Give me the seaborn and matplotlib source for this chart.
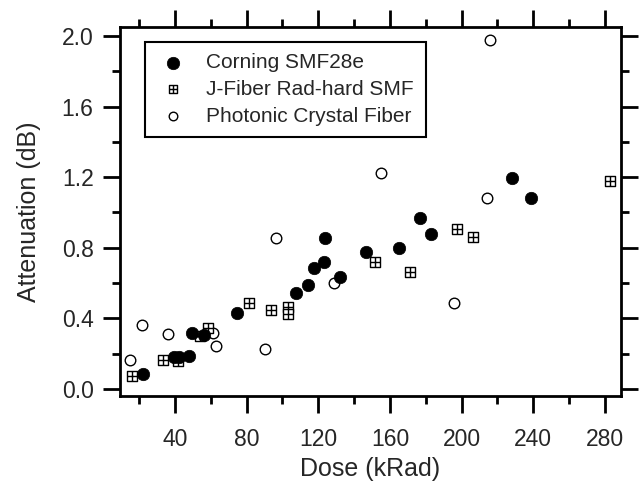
import numpy as np
import pandas as pd
import matplotlib
matplotlib.use("Agg")
import matplotlib.pyplot as plt
from matplotlib.path import Path
from matplotlib.ticker import MultipleLocator
import seaborn as sns

# ---- data ----
corning_x = [22.3, 39.3, 42.2, 48.0, 49.4, 56.3, 74.8, 107.6, 114.0, 117.4, 123.1, 123.9,
             131.9, 146.8, 165.0, 176.9, 183.2, 228.4, 238.7]
corning_y = [0.083, 0.180, 0.182, 0.189, 0.316, 0.306, 0.429, 0.542, 0.588, 0.687, 0.718, 0.854,
             0.633, 0.775, 0.797, 0.971, 0.880, 1.194, 1.080]

jfiber_x = [15.8, 33.5, 41.9, 54.0, 58.2, 81.3, 93.5, 103.0, 103.0, 151.8, 171.3, 197.2, 206.3, 283.1]
jfiber_y = [0.075, 0.164, 0.157, 0.302, 0.347, 0.486, 0.450, 0.463, 0.425, 0.721, 0.665, 0.905,
            0.863, 1.178]

pcf_x = [14.9, 21.4, 36.3, 61.4, 62.7, 90.4, 96.5, 128.7, 155.0, 195.7, 214.4, 216.1]
pcf_y = [0.164, 0.360, 0.314, 0.316, 0.244, 0.225, 0.854, 0.602, 1.222, 0.489, 1.081, 1.979]

labels = ["Corning SMF28e", "J-Fiber Rad-hard SMF", "Photonic Crystal Fiber"]
x_ticks = [40, 80, 120, 160, 200, 240, 280]
y_ticks = [0.0, 0.4, 0.8, 1.2, 1.6, 2.0]

sns.set_style("ticks")
plt.rcParams["font.family"] = ["Liberation Sans", "DejaVu Sans"]

# square with a cross inside
grid_sq = Path(
    [(-1, -1), (1, -1), (1, 1), (-1, 1), (-1, -1),
     (-1, 0), (1, 0), (0, -1), (0, 1)],
    [Path.MOVETO, Path.LINETO, Path.LINETO, Path.LINETO, Path.CLOSEPOLY,
     Path.MOVETO, Path.LINETO, Path.MOVETO, Path.LINETO])

fig = plt.figure(figsize=(6.43, 4.83), dpi=100)
ax = fig.add_axes([0.1866, 0.1801, 0.7792, 0.7640])

df_p = pd.DataFrame({"x": pcf_x, "y": pcf_y})
df_j = pd.DataFrame({"x": jfiber_x, "y": jfiber_y})
df_c = pd.DataFrame({"x": corning_x, "y": corning_y})

sns.scatterplot(data=df_p, x="x", y="y", ax=ax, marker="o", s=58,
                facecolor="white", edgecolor="black", linewidth=1.0,
                label=labels[2], zorder=3)
sns.scatterplot(data=df_j, x="x", y="y", ax=ax, marker=grid_sq, s=62,
                facecolor="white", edgecolor="black", linewidth=1.0,
                label=labels[1], zorder=4)
sns.scatterplot(data=df_c, x="x", y="y", ax=ax, marker="o", s=80,
                facecolor="black", edgecolor="black", linewidth=0.5,
                label=labels[0], zorder=5)

ax.set_xlim(9.3, 289)
ax.set_ylim(-0.04, 2.051)
ax.set_xticks(x_ticks)
ax.set_yticks(y_ticks)
ax.set_yticklabels([f"{v:.1f}" for v in y_ticks])
ax.xaxis.set_minor_locator(MultipleLocator(20))
ax.yaxis.set_minor_locator(MultipleLocator(0.2))

for sp in ax.spines.values():
    sp.set_visible(True)
    sp.set_linewidth(2.0)
    sp.set_color("black")

ax.tick_params(which="both", direction="out", top=True, right=True,
               width=2.0, color="black")
ax.tick_params(which="major", length=12, labelsize=16.5)
ax.tick_params(which="minor", length=6)
ax.tick_params(axis="x", which="major", pad=11)
ax.tick_params(axis="y", which="major", pad=7)
ax.tick_params(top=True, right=True, labeltop=False, labelright=False)

ax.set_xlabel("Dose (kRad)", fontsize=18, labelpad=4)
ax.set_ylabel("Attenuation (dB)", fontsize=18, labelpad=15)

handles, labs = ax.get_legend_handles_labels()
order = [labs.index(l) for l in labels]
leg = ax.legend([handles[i] for i in order], [labs[i] for i in order],
                loc="upper left", bbox_to_anchor=(0.05, 0.96), borderaxespad=0,
                fontsize=15, frameon=True, fancybox=False, edgecolor="black",
                framealpha=1, labelspacing=0.37, handletextpad=0.8,
                handlelength=1.6, borderpad=0.55)
leg.get_frame().set_linewidth(1.5)
sizes = [80, 38, 38]
for h, s in zip(leg.legend_handles, sizes):
    h.set_sizes([s])

fig.savefig("out.png", dpi=100)
